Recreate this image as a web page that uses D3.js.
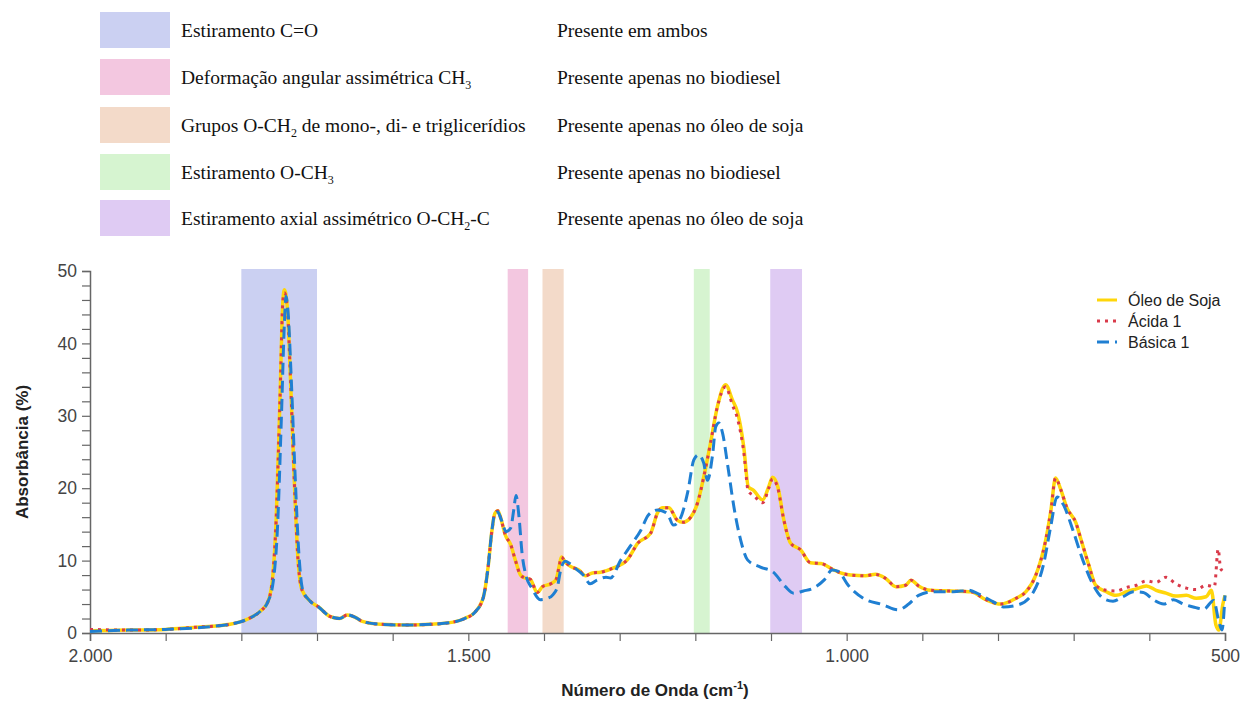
<!DOCTYPE html>
<html>
<head>
<meta charset="utf-8">
<script src="https://cdn.jsdelivr.net/npm/d3@7"></script>
<style>
body { margin: 0; background: #fff; }
svg { display: block; }
</style>
</head>
<body>
<div id="chart"></div>
<script>
'use strict'

// wavenumber (cm-1), absorbance (%)
const oleoSoja = [[2000,0.3],[1950,0.4],[1900,0.5],[1860,0.8],[1830,1.0],[1815,1.2],[1790,2.0],[1775,3.0],[1765,4.3],[1759,7.3],[1754,15.6],[1749,32],[1745,46],[1743,47.4],[1739,44.6],[1735,35],[1730,21],[1725,10],[1720,6],[1709,4.4],[1698,3.6],[1683,2.3],[1670,2.0],[1660,2.5],[1650,2.2],[1640,1.6],[1616,1.2],[1580,1.1],[1550,1.2],[1520,1.5],[1505,2.0],[1491,2.9],[1480,5],[1474,9],[1469,14],[1465,16.5],[1461,16.9],[1457,15.8],[1451,13.5],[1444,12.2],[1438,10.1],[1431,8],[1425,7.6],[1418,7.4],[1409,5.6],[1402,6.4],[1391,6.8],[1384,7.4],[1380,9.2],[1377,10.5],[1372,9.8],[1365,9.2],[1354,8.7],[1345,7.9],[1336,8.3],[1325,8.4],[1308,9.0],[1290,10.1],[1276,12.4],[1259,13.8],[1250,16.6],[1243,17.3],[1235,17.3],[1224,15.6],[1216,15.3],[1206,16],[1197,18],[1189,21.5],[1180,26.2],[1171,31.2],[1160,34.3],[1151,32.2],[1144,30.4],[1136,25.7],[1130,20.2],[1123,19.7],[1111,18.4],[1103,20.2],[1098,21.5],[1091,20.2],[1083,15.6],[1074,12.4],[1061,11.5],[1048,9.7],[1034,9.6],[1017,8.7],[1008,8.3],[995,8],[975,7.9],[962,8.1],[948,7.5],[935,6.4],[922,6.6],[915,7.3],[905,6.5],[889,5.9],[862,5.8],[836,5.7],[816,4.6],[796,4.0],[776,4.8],[763,5.7],[750,8],[737,12.8],[730,17],[724,21.4],[717,19.8],[709,17.3],[697,15.2],[690,12.8],[680,9.4],[671,6.6],[657,5.7],[644,5.2],[630,5.7],[617,6.1],[604,6.5],[591,5.9],[578,5.5],[565,5.1],[551,5.2],[538,4.8],[525,5],[518,5.9],[512,1.1],[508,0.4],[503,3.9],[500,5.2]]

const acida1 = [[2000,0.5],[1950,0.4],[1900,0.5],[1860,0.8],[1830,1.0],[1815,1.2],[1790,2.0],[1775,3.0],[1765,4.3],[1759,7.3],[1754,15.6],[1749,32],[1745,46],[1743,47],[1739,44.6],[1735,35],[1730,21],[1725,10],[1720,6],[1709,4.4],[1698,3.6],[1683,2.3],[1670,2.0],[1660,2.5],[1650,2.2],[1640,1.6],[1616,1.2],[1580,1.1],[1550,1.2],[1520,1.5],[1505,2.0],[1491,2.9],[1480,5],[1474,9],[1469,14],[1465,16.5],[1461,16.9],[1457,15.8],[1451,13.5],[1444,12.2],[1438,10.1],[1431,8],[1425,7.6],[1418,7.4],[1409,5.6],[1402,6.4],[1391,6.8],[1384,7.4],[1380,9.2],[1377,10.5],[1372,9.8],[1365,9.2],[1354,8.7],[1345,7.9],[1336,8.3],[1325,8.4],[1308,9.0],[1290,10.1],[1276,12.4],[1259,13.8],[1250,16.6],[1243,17.3],[1235,17.3],[1224,15.6],[1216,15.3],[1206,16],[1197,18],[1189,21.5],[1180,26.2],[1171,31.2],[1160,34.0],[1151,31.5],[1144,29.5],[1136,25],[1130,19.6],[1123,19.0],[1111,18.0],[1103,20],[1098,21.3],[1091,20.0],[1083,15.6],[1074,12.4],[1061,11.5],[1048,9.7],[1034,9.6],[1017,8.7],[1008,8.3],[995,8],[975,7.9],[962,8.1],[948,7.5],[935,6.4],[922,6.6],[915,7.3],[905,6.5],[889,5.9],[862,5.8],[836,5.7],[816,4.6],[796,4.0],[776,4.8],[763,5.7],[750,8],[737,12.8],[730,17],[724,21.4],[717,19.8],[709,17.3],[697,15.2],[690,12.8],[680,9.4],[671,6.6],[657,5.9],[644,5.8],[630,6.3],[617,6.6],[604,7.2],[591,7.0],[578,7.7],[565,6.8],[551,6.2],[538,6.0],[525,6.6],[514,6.4],[509,11.6],[506,9],[503,8.5],[500,8]]

const basica1 = [[2000,0.2],[1950,0.4],[1900,0.5],[1860,0.7],[1830,1.0],[1815,1.2],[1790,2.0],[1775,3.0],[1765,4.3],[1758,7],[1752,15],[1747,30],[1743,43],[1741,46.5],[1738,44],[1734,35],[1729,22],[1724,11],[1719,6],[1709,4.4],[1698,3.6],[1683,2.3],[1670,2.0],[1660,2.5],[1650,2.2],[1640,1.6],[1616,1.2],[1580,1.1],[1550,1.2],[1520,1.5],[1505,2.0],[1491,2.9],[1480,5],[1474,9],[1469,14],[1465,16.5],[1461,16.7],[1457,15.8],[1450,14],[1444,14.5],[1440,17],[1437,19],[1433,16],[1429,11],[1424,8],[1416,6.2],[1405,4.6],[1395,4.8],[1388,5.3],[1382,6.5],[1378,8.7],[1372,9.9],[1366,9.6],[1357,8.8],[1348,8.0],[1339,6.8],[1330,7.3],[1318,7.7],[1312,7.6],[1299,10],[1286,12],[1272,14.2],[1262,16.3],[1250,17],[1237,16.5],[1229,14.9],[1220,15.8],[1210,19.5],[1202,23.9],[1196,24.6],[1189,23.5],[1184,21.1],[1177,24.8],[1173,28.5],[1169,29],[1164,27.6],[1157,23],[1149,17.4],[1140,12.8],[1131,10.1],[1114,9.1],[1097,8.4],[1081,6.4],[1070,5.5],[1057,5.8],[1044,6.2],[1030,7.3],[1019,8.7],[1011,8.5],[998,6.6],[978,4.8],[952,3.9],[932,3.2],[918,4],[905,5.2],[885,5.7],[859,5.7],[839,5.9],[826,5.4],[806,4.3],[793,3.6],[773,3.9],[753,5.7],[740,9.4],[730,14.9],[722,18.8],[714,17.8],[701,14.2],[688,10.1],[674,6.6],[661,4.8],[648,4.4],[635,5.0],[621,5.7],[608,5.6],[595,4.6],[581,4.0],[568,4.6],[555,4.0],[542,3.6],[528,3.3],[515,4.5],[508,1.5],[504,0.4],[500,5.2]]

const seriesNames = ["Óleo de Soja", "Ácida 1", "Básica 1"]

// highlighted bands (cm-1)
const bandRanges = [[1800,1700],[1448,1421],[1402,1374],[1202,1181],[1101,1059]]
const bandLabels = ["Estiramento C=O", "Deformação angular assimétrica CH_3", "Grupos O-CH_2 de mono-, di- e triglicerídios", "Estiramento O-CH_3", "Estiramento axial assimétrico O-CH_2-C"]
const bandNotes = ["Presente em ambos", "Presente apenas no biodiesel", "Presente apenas no óleo de soja", "Presente apenas no biodiesel", "Presente apenas no óleo de soja"]

const xMajorTicks = [2000, 1500, 1000, 500]
const yMajorTicks = [0, 10, 20, 30, 40, 50]

const bandColors = ["#cbd0f2", "#f3c7e0", "#f3dac9", "#d6f4d0", "#dfcbf3"]
const lineColors = ["#ffd60a", "#d93a4a", "#1f7fd2"]
const lineDash = [null, "3,5", "12,6"]

const width = 1240, height = 706
const svg = d3.select("#chart").append("svg").attr("width", width).attr("height", height)

const x = d3.scaleLinear().domain([2000, 500]).range([90, 1225])
const y = d3.scaleLinear().domain([0, 50]).range([633, 271])

const ptBR = d3.formatLocale({decimal: ",", thousands: ".", grouping: [3], currency: ["R$", ""]})
const sans = "'Liberation Sans', Arial, sans-serif"
const serif = "'Liberation Serif', 'DejaVu Serif', serif"

// top legend
function addLabel(sel, text){
	let parts = text.split(/_(\d)/)
	parts.forEach(function(p, i){
		if (p === "") return
		if (i % 2 === 1){
			sel.append("tspan").attr("font-size", 12).attr("dy", 5).text(p)
		} else {
			let t = sel.append("tspan").text(p)
			if (i > 0) t.attr("dy", -5)
		}
	})
}

let legRows = [12, 59, 107, 154, 200]
let topLeg = svg.append("g")
bandLabels.forEach(function(lbl, i){
	topLeg.append("rect").attr("x", 100).attr("y", legRows[i]).attr("width", 70).attr("height", 36).attr("fill", bandColors[i])
	let t = topLeg.append("text").attr("x", 181).attr("y", legRows[i] + 25)
		.attr("font-family", serif).attr("font-size", 19.5).attr("fill", "#111")
	addLabel(t, lbl)
	topLeg.append("text").attr("x", 557).attr("y", legRows[i] + 25)
		.attr("font-family", serif).attr("font-size", 19.5).attr("fill", "#111")
		.text(bandNotes[i])
})

// bands
svg.append("g").selectAll("rect").data(bandRanges).enter().append("rect")
	.attr("x", function(d){ return x(d[0]) })
	.attr("width", function(d){ return x(d[1]) - x(d[0]) })
	.attr("y", y(50) - 2)
	.attr("height", y(0) - y(50) + 2)
	.attr("fill", function(d, i){ return bandColors[i] })

// axes
let xAxis = svg.append("g").attr("transform", "translate(0," + y(0) + ")")
	.call(d3.axisBottom(x).tickValues(d3.range(2000, 499, -100)).tickSize(8).tickPadding(9)
		.tickFormat(function(d){ return xMajorTicks.indexOf(d) >= 0 ? ptBR.format(",")(d) : "" }))
let yAxis = svg.append("g").attr("transform", "translate(" + x(2000) + ",0)")
	.call(d3.axisLeft(y).tickValues(d3.range(0, 51, 2)).tickSize(8).tickPadding(5)
		.tickFormat(function(d){ return yMajorTicks.indexOf(d) >= 0 ? d : "" }))

;[xAxis, yAxis].forEach(function(a){
	a.select(".domain").attr("stroke", "#666").attr("stroke-width", 1.5)
	a.selectAll(".tick line").attr("stroke", "#666").attr("stroke-width", 1.2)
	a.selectAll(".tick text").attr("font-family", sans).attr("font-size", 17.5).attr("fill", "#444")
})

// lines
let line = d3.line().x(function(d){ return x(d[0]) }).y(function(d){ return y(d[1]) }).curve(d3.curveMonotoneX)
let allSeries = [oleoSoja, acida1, basica1]
allSeries.forEach(function(s, i){
	let p = svg.append("path").datum(s).attr("d", line)
		.attr("fill", "none").attr("stroke", lineColors[i])
		.attr("stroke-width", i === 0 ? 3.5 : 3)
		.attr("stroke-linejoin", "round")
	if (lineDash[i]) p.attr("stroke-dasharray", lineDash[i])
})

// line legend
let lineLeg = svg.append("g")
seriesNames.forEach(function(n, i){
	let ly = 300 + i * 21
	let l = lineLeg.append("line").attr("x1", 1097).attr("x2", 1117).attr("y1", ly).attr("y2", ly)
		.attr("stroke", lineColors[i]).attr("stroke-width", 3)
	if (lineDash[i]) l.attr("stroke-dasharray", lineDash[i])
	lineLeg.append("text").attr("x", 1128).attr("y", ly + 6)
		.attr("font-family", sans).attr("font-size", 16).attr("fill", "#222")
		.text(n)
})

// axis titles
svg.append("text").attr("transform", "translate(28," + y(25) + ") rotate(-90)")
	.attr("text-anchor", "middle").attr("font-family", sans)
	.attr("font-weight", "bold").attr("font-size", 17).attr("fill", "#222")
	.text("Absorbância (%)")

let xt = svg.append("text").attr("x", 655).attr("y", 696)
	.attr("text-anchor", "middle").attr("font-family", sans)
	.attr("font-weight", "bold").attr("font-size", 17).attr("fill", "#222")
xt.append("tspan").text("Número de Onda (cm")
xt.append("tspan").attr("font-size", 11).attr("dy", -7).text("-1")
xt.append("tspan").attr("dy", 7).text(")")
</script>
</body>
</html>
